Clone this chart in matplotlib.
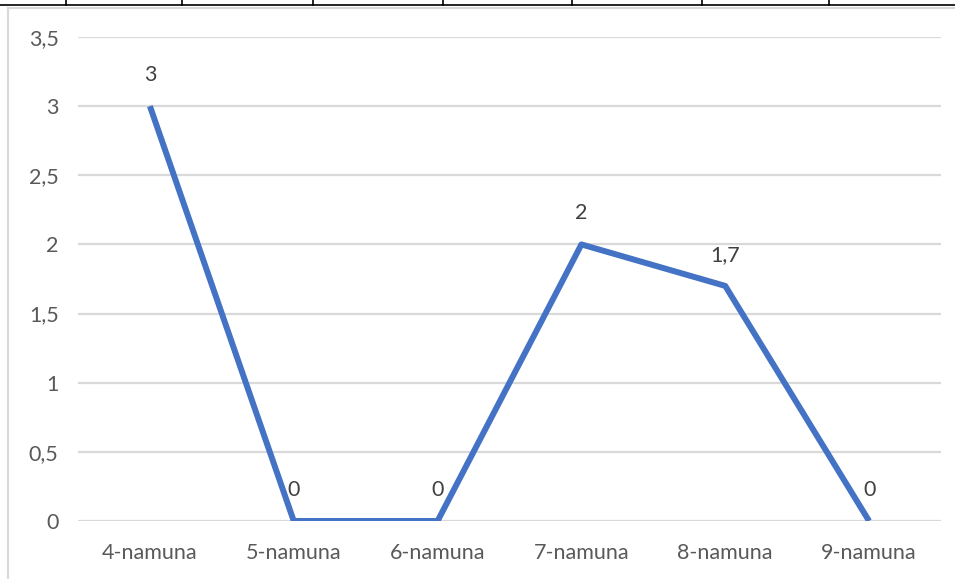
import numpy as np
import matplotlib.pyplot as plt
from matplotlib.lines import Line2D

# data
categories = ['4-namuna', '5-namuna', '6-namuna', '7-namuna', '8-namuna', '9-namuna']
values = [3, 0, 0, 2, 1.7, 0]
y_ticks = [0, 0.5, 1, 1.5, 2, 2.5, 3, 3.5]

def comma(v):
    s = ('%g' % v)
    return s.replace('.', ',')

plt.rcParams['font.family'] = ['Lato', 'DejaVu Sans']

fig = plt.figure(figsize=(9.55, 5.79), dpi=100)
ax = fig.add_axes([78/955, 1 - 521/579, (941 - 78)/955, (521 - 37)/579])

x = np.arange(len(categories))
ax.plot(x, values, color='#4472C4', linewidth=4.3, solid_joinstyle='round',
        solid_capstyle='butt', zorder=3)

# data labels above each point
for xi, v in zip(x, values):
    ax.annotate(comma(v), (xi, v), xytext=(0, 22.5), textcoords='offset points',
                ha='center', va='center', fontsize=15.5, color='#404040')

ax.set_xlim(-0.5, len(categories) - 0.5)
ax.set_ylim(0, 3.5)
ax.set_yticks(y_ticks)
ax.set_yticklabels([comma(t) for t in y_ticks])
ax.set_xticks(x)
ax.set_xticklabels(categories)
ax.tick_params(length=0, labelsize=15.5, colors='#595959')
ax.tick_params(axis='y', pad=14)
ax.tick_params(axis='x', pad=16)
ax.yaxis.grid(True, color='#D9D9D9', linewidth=1.6)
ax.set_axisbelow(True)
for s in ax.spines.values():
    s.set_visible(False)

# chart border and the bit of table above it
fig.add_artist(Line2D([8/955, 8/955], [1 - 8/579, 0], color='#D9D9D9', linewidth=1.5))
fig.add_artist(Line2D([8/955, 1], [1 - 8/579, 1 - 8/579], color='#D9D9D9', linewidth=1.5))
fig.add_artist(Line2D([0, 1], [1 - 5/579, 1 - 5/579], color='black', linewidth=1.2))
for xv in [66, 182, 313, 443, 572, 702, 829]:
    fig.add_artist(Line2D([xv/955, xv/955], [1, 1 - 5/579], color='black', linewidth=1.2))

fig.savefig('out.png', dpi=100)
